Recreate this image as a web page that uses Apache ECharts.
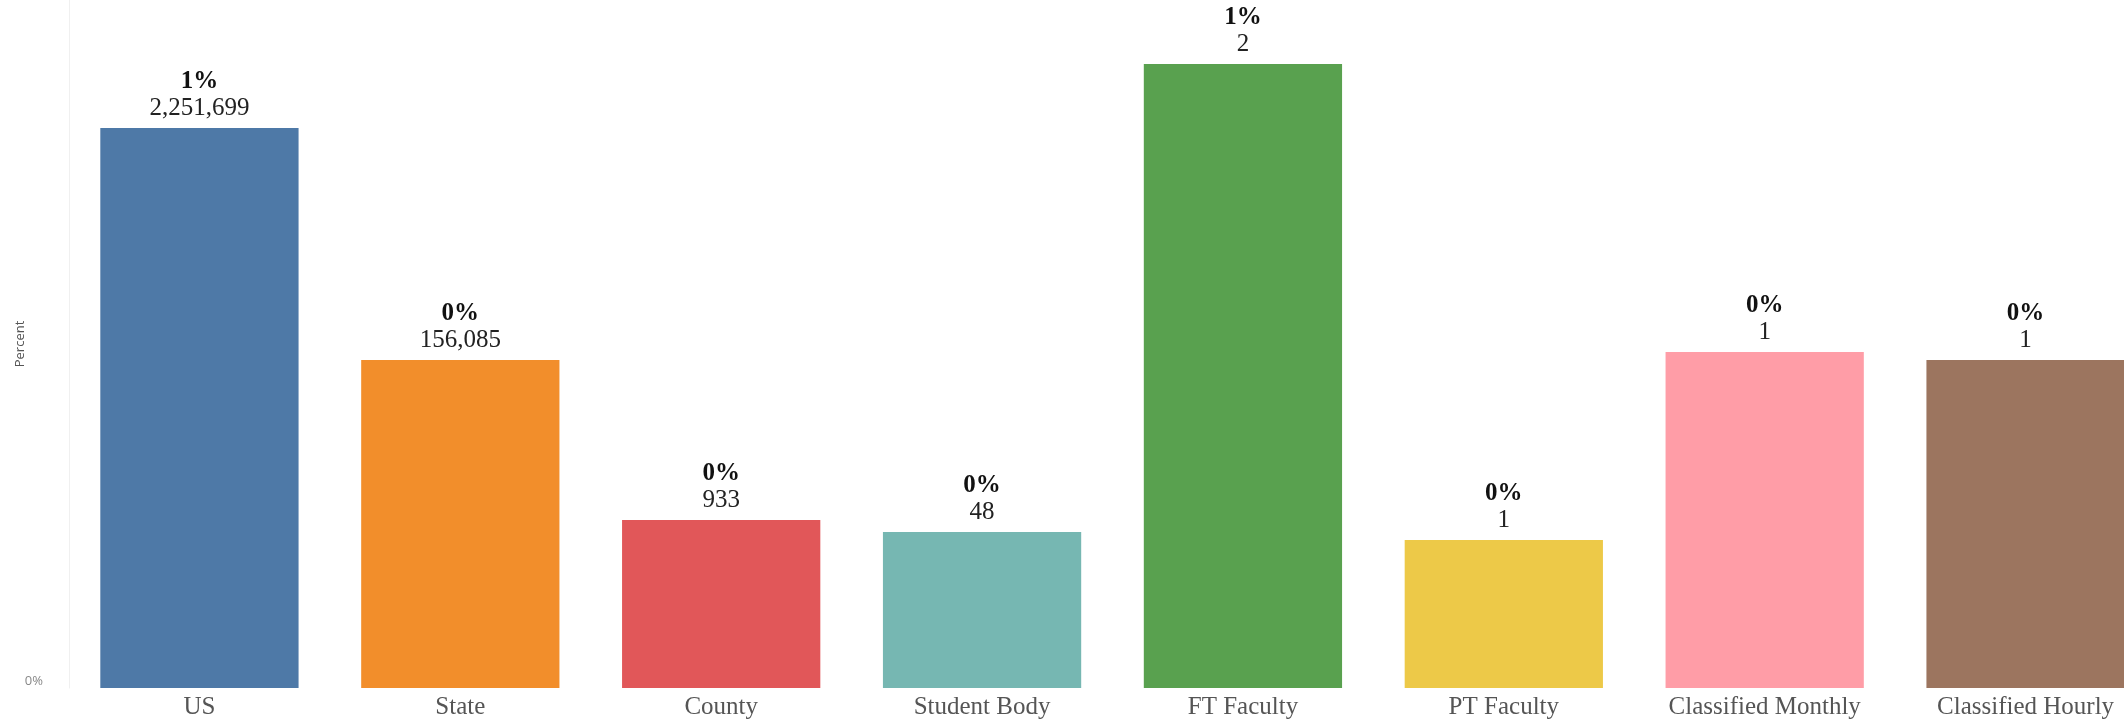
<!DOCTYPE html>
<html>
<head>
<meta charset="utf-8">
<script src="https://cdn.jsdelivr.net/npm/echarts@6/dist/echarts.min.js"></script>
<style>
  html, body { margin: 0; padding: 0; background: #fff; }
  #chart { width: 2124px; height: 726px; }
</style>
</head>
<body>
<div id="chart"></div>
<script>
// categories and values
const categories = ['US', 'State', 'County', 'Student Body', 'FT Faculty', 'PT Faculty', 'Classified Monthly', 'Classified Hourly'];
const percents = [0.70, 0.41, 0.21, 0.195, 0.78, 0.185, 0.42, 0.41];
const counts = ['2,251,699', '156,085', '933', '48', '2', '1', '1', '1'];
const colors = ['#4e79a7', '#f28e2b', '#e15759', '#76b7b2', '#59a14f', '#edc948', '#ff9da7', '#9c755f'];

const chart = echarts.init(document.getElementById('chart'), null, { renderer: 'canvas' });

const option = {
    animation: false,
    grid: {
        top: 0,
        bottom: 38,
        left: 69,
        right: -32,
        outerBoundsMode: 'none' // last bar is cut by the right edge
    },
    xAxis: {
        type: 'category',
        data: categories,
        axisLine: { show: false },
        axisTick: { show: false },
        axisLabel: {
            color: '#555',
            fontFamily: 'Liberation Serif',
            fontSize: 25,
            margin: 7
        }
    },
    yAxis: {
        type: 'value',
        min: 0,
        max: 0.86,
        interval: 0.86,
        name: 'Percent',
        nameLocation: 'middle',
        nameGap: 42,
        nameMoveOverlap: false,
        nameTextStyle: { color: '#555', fontFamily: 'Open Sans', fontSize: 13 },
        axisLine: { show: true, lineStyle: { color: '#f0f0f0' } },
        axisTick: { show: false },
        splitLine: { show: false },
        axisLabel: {
            color: '#888',
            fontFamily: 'Open Sans',
            fontSize: 13,
            margin: 26,
            verticalAlign: 'bottom',
            formatter: v => (v === 0 ? '0%' : '')
        }
    },
    series: [{
        type: 'bar',
        barCategoryGap: '24%',
        data: percents.map((p, i) => ({
            value: p,
            itemStyle: { color: colors[i] }
        })),
        label: {
            show: true,
            position: 'top',
            distance: 6,
            formatter: (params) => '{b|' + Math.round(params.value) + '%}\n{v|' + counts[params.dataIndex] + '}',
            rich: {
                b: { fontFamily: 'Liberation Serif', fontWeight: 'bold', fontSize: 25, color: '#111', lineHeight: 27, align: 'center' },
                v: { fontFamily: 'Liberation Serif', fontSize: 25, color: '#222', lineHeight: 27, align: 'center' }
            }
        }
    }]
};

chart.setOption(option);
</script>
</body>
</html>
